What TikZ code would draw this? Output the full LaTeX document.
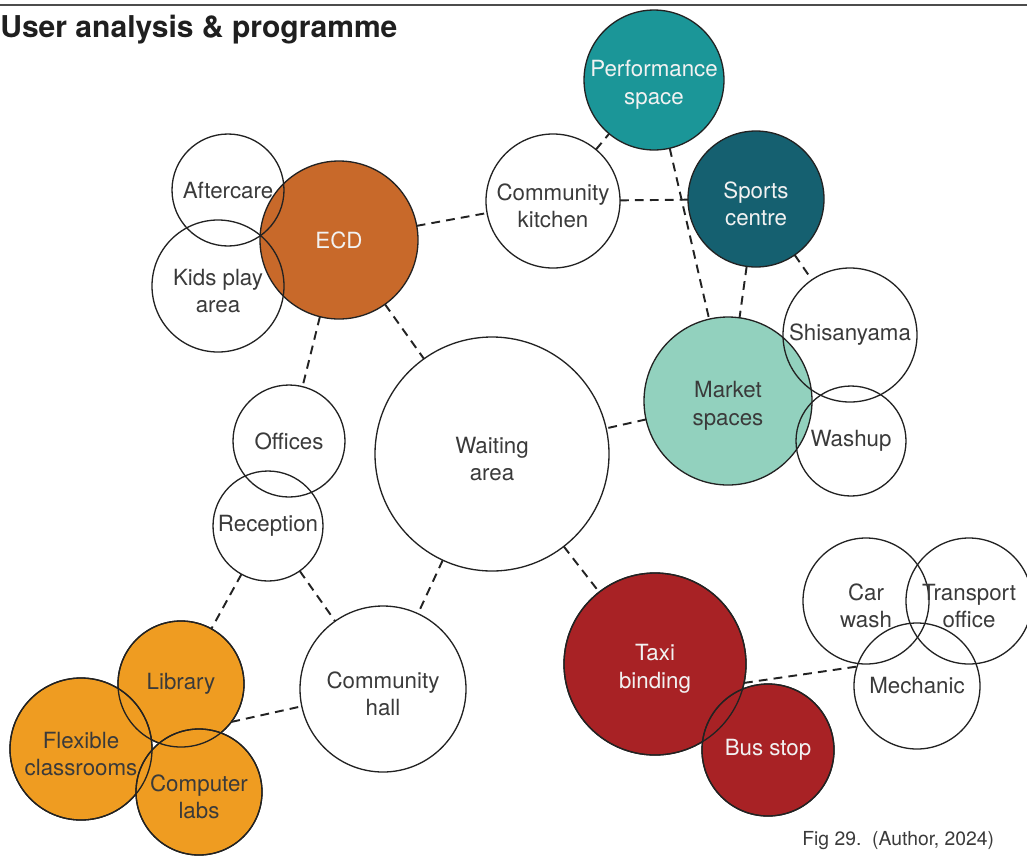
\documentclass[tikz,border=0pt]{standalone}
\usepackage{fontspec}
\setmainfont{TeX Gyre Heros}
\usetikzlibrary{calc}

\definecolor{perfteal}{RGB}{27,150,152}
\definecolor{sportsteal}{RGB}{21,96,112}
\definecolor{ecdorange}{RGB}{200,105,42}
\definecolor{marketgreen}{RGB}{146,209,190}
\definecolor{taxired}{RGB}{168,34,37}
\definecolor{learnorange}{RGB}{239,156,33}
\definecolor{txtdark}{RGB}{58,58,58}
\definecolor{txtlight}{RGB}{242,242,242}
\definecolor{ringcol}{RGB}{34,34,34}

% taller first line, so two-line labels sit a little low in the bubble
\newcommand\tallrule{\rule{0pt}{15pt}}

\begin{document}
\begin{tikzpicture}[x=0.02cm, y=-0.02cm,
	every node/.style={font=\fontsize{12.7}{15.9}\selectfont, text=txtdark},
	bubble/.style={circle, draw=ringcol, line width=0.75pt, inner sep=0pt, outer sep=0pt, align=center, minimum size=2*#1*0.02cm},
	tint/.style={fill=#1},
	light/.style={text=txtlight},
	ring/.style={draw=ringcol, line width=0.75pt},
	link/.style={draw=ringcol, line width=1.1pt, dash pattern=on 5pt off 3.5pt}]
	\useasboundingbox (0,0) rectangle (1027,856);
	\draw[black!70, line width=1pt] (0,5) -- (1027,5);
	\node[anchor=base west, inner sep=0pt, text=black!88, font=\fontsize{17.1}{20}\selectfont\bfseries] (title) at (0,37) {User analysis \& programme};

	\begin{scope}
		\node[bubble=79, tint=ecdorange, light] (ecd) at (339,240) {ECD};
		\node[bubble=56] (aftercare) at (228,190) {Aftercare};
		\node[bubble=66] (kids) at (218,286) {\tallrule Kids play\\area};
		\node[bubble=67] (kitchen) at (553,201) {\tallrule Community\\kitchen};
		\node[bubble=68, tint=perfteal, light] (perf) at (654,80) {\tallrule Performance\\space};
		\node[bubble=68, tint=sportsteal, light] (sports) at (756,199) {\tallrule Sports\\centre};
	\end{scope}

	\begin{scope}
		\node[bubble=84, tint=marketgreen] (market) at (728,401) {\tallrule Market\\spaces};
		\node[bubble=67] (shisa) at (850,335) {Shisanyama};
		\node[bubble=55] (washup) at (851,441) {Washup};
		\node[bubble=117] (waiting) at (492,454) {\tallrule Waiting\\area};
		\node[bubble=56] (offices) at (289,441) {Offices};
		\node[bubble=55] (reception) at (268,526) {Reception};
		\node[bubble=83] (hall) at (383,689) {\tallrule Community\\hall};
	\end{scope}

	\begin{scope}
		\node[bubble=63, tint=learnorange] (library) at (181,684) {Library};
		\node[bubble=71, tint=learnorange] (flexible) at (81,749) {\tallrule Flexible\\classrooms};
		\node[bubble=63, tint=learnorange] (computer) at (199,792) {\tallrule Computer\\labs};
		\node[bubble=91, tint=taxired, light] (taxi) at (655,664) {\tallrule Taxi\\binding};
		\node[bubble=66, tint=taxired, light] (bus) at (768,750) {Bus stop};
		\node[bubble=63] (carwash) at (866,601) {\tallrule Car\\wash};
		\node[bubble=63] (transport) at (969,601) {\tallrule Transport\\office};
		\node[bubble=63] (mechanic) at (917,686) {Mechanic};
	\end{scope}

	\foreach \b in {library,flexible,computer,taxi,bus}
		\draw[ring] let \p1=($(\b.east)-(\b.center)$) in (\b.center) circle[radius=\x1];

	\draw[link] (ecd) -- (kitchen);
	\draw[link] (kitchen) -- (perf);
	\draw[link] (kitchen) -- (sports);
	\draw[link] (perf) -- (market);
	\draw[link] (sports) -- (market);
	\draw[link] (sports) -- (shisa);
	\draw[link] (ecd) -- (waiting);
	\draw[link] (ecd) -- (offices);
	\draw[link] (market) -- (waiting);
	\draw[link] (reception) -- (library);
	\draw[link] (reception) -- (hall);
	\draw[link] (waiting) -- (hall);
	\draw[link] (waiting) -- (taxi);
	\draw[link] (library.-37) -- (hall.192);
	\draw[link] (taxi.-12) -- (mechanic.162);

	\node[anchor=base west, inner sep=0pt, font=\fontsize{11}{13}\selectfont] (caption) at (802,845) {Fig 29.\ \ (Author, 2024)};
\end{tikzpicture}
\end{document}
